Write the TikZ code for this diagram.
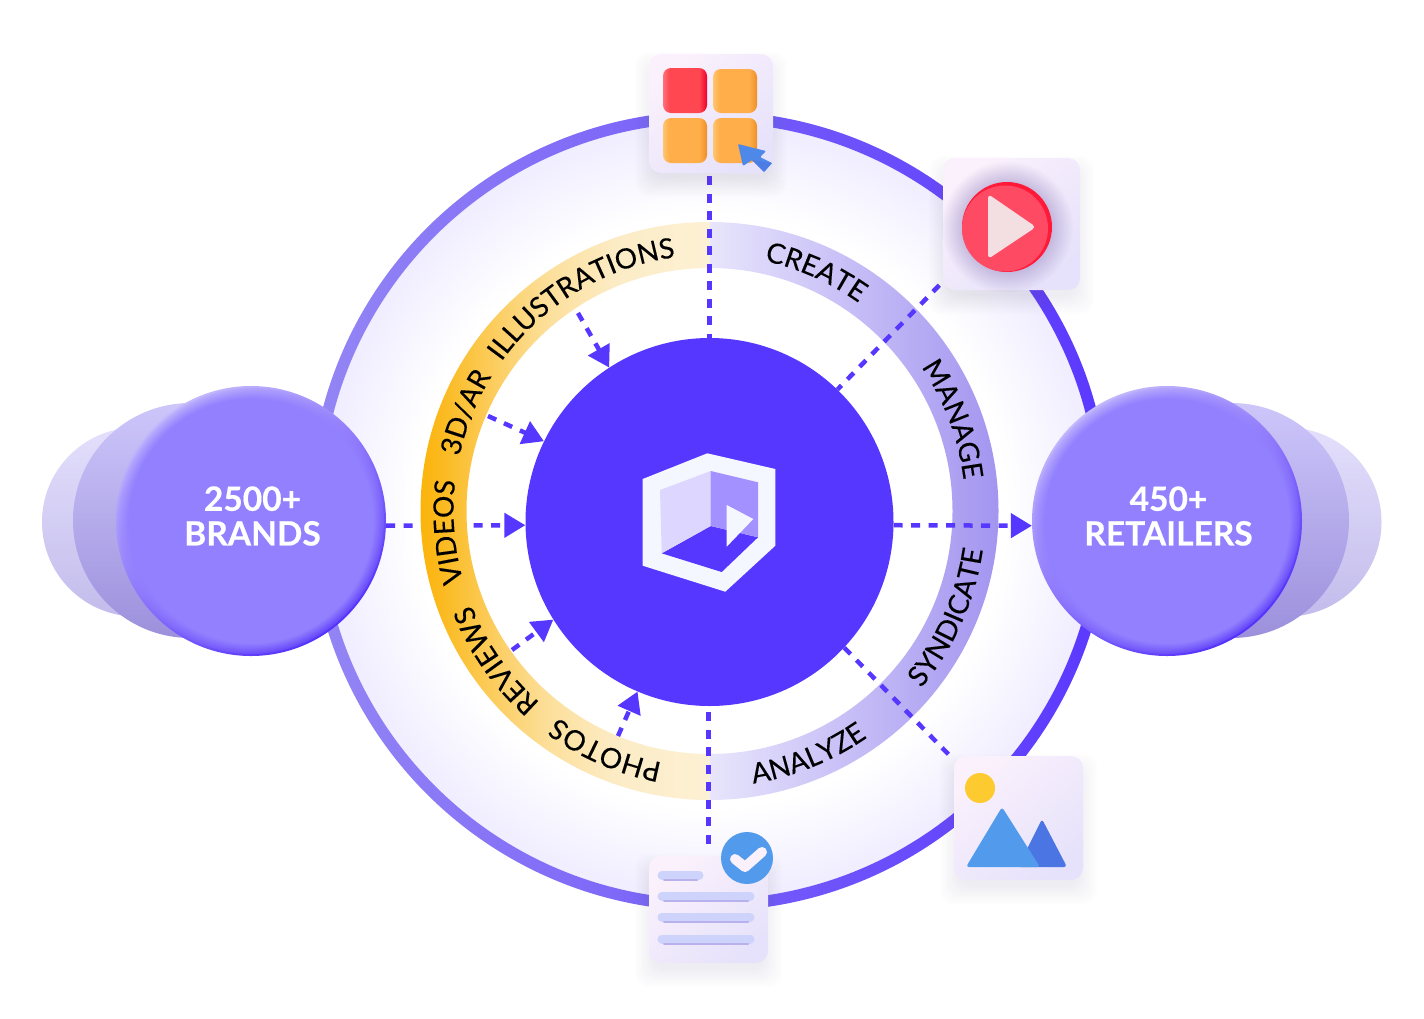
\documentclass[tikz,border=0pt]{standalone}
\usepackage{fontspec}
\setmainfont{Lato}
\newfontfamily\ringfont{Lato}[FakeBold=0.25]
\newfontfamily\bubblefont{Lato Bold}[FakeBold=0.4]
\usepackage{xcolor}
\usepackage{tikz}
\definecolor{hubblue}{HTML}{5637FF}
\definecolor{ringdark}{HTML}{5A38FF}
\definecolor{ringlight}{HTML}{9486F4}
\definecolor{hazeedge}{HTML}{EEEBFF}
\definecolor{gold0}{HTML}{FBB40A}
\definecolor{gold1}{HTML}{FBBA22}
\definecolor{gold2}{HTML}{FCD068}
\definecolor{gold3}{HTML}{FCDF9A}
\definecolor{gold4}{HTML}{FCECC6}
\definecolor{gold5}{HTML}{FDF1D4}
\definecolor{lilacpale}{HTML}{E8E5FC}
\definecolor{lilacstrong}{HTML}{A395F0}
\definecolor{bubblecore}{HTML}{9280FF}
\definecolor{bubblelight}{HTML}{C3B8FC}
\definecolor{bubbledark}{HTML}{5532FA}
\definecolor{backfartop}{HTML}{E3DFFB}
\definecolor{backfarlow}{HTML}{C3BCEC}
\definecolor{backmidtop}{HTML}{CDC6FA}
\definecolor{backmidmid}{HTML}{A99FF0}
\definecolor{backmidlow}{HTML}{9C90DC}
\definecolor{cardpink}{HTML}{FBF1FC}
\definecolor{cardlilac}{HTML}{E6E2FB}
\definecolor{cardshade}{HTML}{6C6790}
\definecolor{linefill}{HTML}{CDD3FB}
\definecolor{lineshade}{HTML}{B9B0EE}
\definecolor{skyblue}{HTML}{529BEC}
\definecolor{deepblue}{HTML}{4A75E3}
\definecolor{logowhite}{HTML}{F4F7FF}
\definecolor{sunyellow}{HTML}{FDCB30}
\definecolor{playred}{HTML}{FF4A63}
\definecolor{playrim}{HTML}{FF1A3A}
\definecolor{playwhite}{HTML}{F3DFE2}
\definecolor{haloshade}{HTML}{A596C8}
\definecolor{orangeleft}{HTML}{FFC670}
\definecolor{orangemid}{HTML}{FFAE4A}
\definecolor{orangeright}{HTML}{EF8F25}
\definecolor{redleft}{HTML}{FF7078}
\definecolor{redmid}{HTML}{FF4752}
\definecolor{redright}{HTML}{F0002A}
\usetikzlibrary{arrows.meta, calc, backgrounds, fadings, decorations.text}
\pgfdeclareradialshading{hazeshade}{\pgfpointorigin}{color(0bp)=(white); color(18.5bp)=(white); color(25bp)=(hazeedge); color(50bp)=(hazeedge)}
\pgfdeclareradialshading{bubbleedgeshade}{\pgfpointorigin}{color(0bp)=(white); color(22.5bp)=(white); color(25bp)=(black); color(50bp)=(black)}
\pgfdeclarefading{bubbleedge}{\pgfuseshading{bubbleedgeshade}}
\pgfdeclareradialshading{haloedgeshade}{\pgfpointorigin}{color(0bp)=(white); color(17bp)=(white); color(25bp)=(black); color(50bp)=(black)}
\pgfdeclarefading{haloedge}{\pgfuseshading{haloedgeshade}}
\pgfdeclarehorizontalshading{goldshade}{100bp}{color(0bp)=(gold0); color(25bp)=(gold0); color(29bp)=(gold1); color(39bp)=(gold2); color(47bp)=(gold3); color(59bp)=(gold4); color(75bp)=(gold5); color(100bp)=(gold5)}
\pgfdeclarehorizontalshading{tileorangeshade}{100bp}{color(0bp)=(orangeleft); color(25bp)=(orangeleft); color(32bp)=(orangemid); color(66bp)=(orangemid); color(75bp)=(orangeright); color(100bp)=(orangeright)}
\pgfdeclarehorizontalshading{tileredshade}{100bp}{color(0bp)=(redleft); color(25bp)=(redleft); color(32bp)=(redmid); color(66bp)=(redmid); color(75bp)=(redright); color(100bp)=(redright)}
% ring labels: tops outward (clockwise) and tops inward (counter-clockwise)
\newcommand{\ringcw}[2]{\path[decorate, decoration={text along path, text align=center, text={|\ringfont\fontsize{28}{28}\selectfont|#1}}]
    ([shift={(#2-40:256)}]ringc) arc[start angle=#2-40, end angle=#2+40, radius=256];}
\newcommand{\ringccw}[2]{\path[decorate, decoration={text along path, text align=center, text={|\ringfont\fontsize{28}{28}\selectfont|#1}}]
    ([shift={(#2+40:276)}]ringc) arc[start angle=#2+40, end angle=#2-40, radius=276];}
% soft shadow under a card
\newcommand{\cardshadow}[1]{\foreach \k in {0,2,...,18}
    \fill[cardshade, opacity=0.011, rounded corners=14pt] ($(#1.north west)+(-\k+4,-\k+16)$) rectangle ($(#1.south east)+(\k-4,\k+6)$);}
\newcommand{\bubbletext}[2]{\kern3pt\raisebox{4pt}{\begin{tabular}{@{}c@{}}#1\\#2\end{tabular}}}
\begin{document}
\begin{tikzpicture}[
    x=1pt, y=-1pt,
    bubble/.style={circle, minimum size=270pt, inner sep=0pt, align=center, text=white,
                   top color=bubblelight, bottom color=bubbledark, shading angle=35,
                   font=\bubblefont\fontsize{33.5}{34}\selectfont,
                   path picture={\fill[bubblecore, path fading=bubbleedge] (path picture bounding box.center) circle (133);}},
    backmid/.style={top color=backmidtop, middle color=backmidmid, bottom color=backmidlow},
    backfar/.style={top color=backfartop, bottom color=backfarlow},
    card/.style={rectangle, rounded corners=12pt, inner sep=0pt, left color=cardpink, right color=cardlilac, shading angle=40},
    flow/.style={draw=hubblue, line width=4.5pt, dash pattern=on 9pt off 8.5pt},
    flowin/.style={flow, -{Triangle[length=21pt,width=24pt]}},
    tilered/.style={rounded corners=8pt, shading=tileredshade},
    tileorange/.style={rounded corners=8pt, shading=tileorangeshade},
    docline/.style={line width=9pt, line cap=round, draw=linefill}
]
    \useasboundingbox (0,0) rectangle (1424,1018);
    \coordinate (ringc) at (709.5,511);

    % Back bubbles
    \shade[backfar] (136.5,522) circle (94.5);
    \shade[backmid] (190.5,520.5) circle (117.5);
    \shade[backfar] (1287,522) circle (94.5);
    \shade[backmid] (1231.5,520.5) circle (117.5);

    % Hub and bubbles
    \node[circle, fill=hubblue, minimum size=368pt, inner sep=0pt] (hub) at (709.5,522) {};
    \node[bubble] (brands) at (251,521) {\bubbletext{2500+}{BRANDS}};
    \node[bubble] (retailers) at (1167,521) {\bubbletext{450+}{RETAILERS}};

    % Icon cards
    \node[card, minimum width=124pt, minimum height=119pt] (gridcard) at (711,113.5) {};
    \node[card, minimum width=137pt, minimum height=132pt] (playcard) at (1011.5,224) {};
    \node[card, minimum width=129pt, minimum height=124pt] (imagecard) at (1018.5,818) {};
    \node[card, minimum width=119pt, minimum height=107pt] (doccard) at (708.5,909.5) {};

    \begin{scope}[on background layer]
        % Haze and outer ring
        \shade[shading=hazeshade] (ringc) circle (400);
        \shade[left color=ringlight, right color=ringdark, even odd rule] (ringc) circle (400) (ringc) circle (388.5);

        % Ring halves
        \draw[flowin] (brands.-2.5) -- (hub.181.5);
        \shade[shading=goldshade] (709.5,800) arc[start angle=90, end angle=270, radius=289]
            -- (709.5,268) arc[start angle=270, end angle=90, radius=243] -- cycle;
        \shade[left color=lilacpale, right color=lilacstrong] (709.5,222) arc[start angle=-90, end angle=90, radius=289]
            -- (709.5,754) arc[start angle=90, end angle=-90, radius=243] -- cycle;

        % Connectors
        \coordinate (illustr) at (578,313);
        \coordinate (threed) at (488,416);
        \coordinate (reviews) at (512,650);
        \coordinate (photos) at (618,736);
        \draw[flow] (gridcard.south -| hub.north) ++(0,3) -- (hub.north);
        \draw[flow, shorten <=5pt] (playcard.220) -- (hub.46);
        \draw[flow] (hub.-43.6) -- (imagecard.138);
        \draw[flow, shorten <=12pt] (doccard.north) -- (doccard.north |- hub.south);
        \draw[flowin] (hub.-1.5) -- (retailers.182.5);
        \draw[flowin] (illustr) -- (hub.123.2);
        \draw[flowin] (threed) -- (hub.154.6);
        \draw[flowin] (reviews) -- (hub.212.2);
        \draw[flowin] (photos) -- (hub.247.8);

        % Ring labels
        \ringcw{ILLUSTRATIONS}{239}
        \ringcw{3D/AR}{202}
        \ringcw{VIDEOS}{175.4}
        \ringcw{REVIEWS}{145}
        \ringcw{PHOTOS}{113.5}
        \ringcw{CREATE}{-66}
        \ringcw{MANAGE}{-20.6}
        \ringccw{SYNDICATE}{24}
        \ringccw{ANALYZE}{68}

        % Card shadows
        \cardshadow{gridcard}
        \cardshadow{playcard}
        \cardshadow{imagecard}
        \cardshadow{doccard}
    \end{scope}

    % Logo
    \fill[logowhite] (642.7,479) -- (707.3,453.3) -- (775.3,469) -- (775.3,545.7) -- (725.3,591.7) -- (642.7,565.7) -- cycle;
    \fill[hubblue] (710.7,526) -- (758,537.3) -- (721.7,572) -- (661.7,553.3) -- cycle;
    \fill[hubblue!20!white] (660,490) -- (710.7,471) -- (710.7,526) -- (661.7,553.3) -- cycle;
    \fill[hubblue!55!white] (710.7,471) -- (758,482.3) -- (758,537.3) -- (710.7,526) -- cycle;
    \fill[logowhite] (726.7,505) -- (753.3,519) -- (726.7,546.7) -- cycle;

    % Grid icon
    \shade[tilered] (663,68) rectangle (707,113);
    \shade[tileorange] (713,69) rectangle (757,113);
    \shade[tileorange] (663,118) rectangle (707,163);
    \shade[tileorange] (713,118) rectangle (757,163);
    \fill[deepblue!50!skyblue, rounded corners=1pt] (738,144) -- (766,151) -- (760,157) -- (772,163) -- (764,172) -- (752,160) -- (743,166) -- cycle;
    \fill[deepblue!80!skyblue] (752,160) -- (772,163) -- (764,172) -- cycle;

    % Play icon
    \fill[haloshade, opacity=0.55, path fading=haloedge] (1007,227) circle (66);
    \fill[playrim] (1007,227) circle (45);
    \fill[playred] (1005,228.5) circle (43);
    \fill[playwhite, rounded corners=4pt] (988,194) -- (1036,227) -- (988,259) -- cycle;

    % Image icon
    \fill[sunyellow] (980,788) circle (15);
    \fill[deepblue, rounded corners=3pt] (1042,819) -- (1067,867) -- (1018,867) -- cycle;
    \fill[skyblue, rounded corners=3pt] (1002,807) -- (1040,867) -- (966,867) -- cycle;

    % Document icon
    \draw[docline] (662,875) -- (699,875);
    \foreach \ly in {896,917,939}
        \draw[docline] (662,\ly) -- (750,\ly);
    \draw[draw=lineshade, line width=2pt, line cap=round] (664,880) -- (697,880);
    \foreach \ly in {901,922,944}
        \draw[draw=lineshade, line width=2pt, line cap=round] (664,\ly) -- (748,\ly);
    \fill[skyblue] (747,858) circle (26);
    \draw[draw=cardpink, line width=10pt, line cap=round, line join=round] (735,859) -- (745,867) -- (762,852);
\end{tikzpicture}
\end{document}
